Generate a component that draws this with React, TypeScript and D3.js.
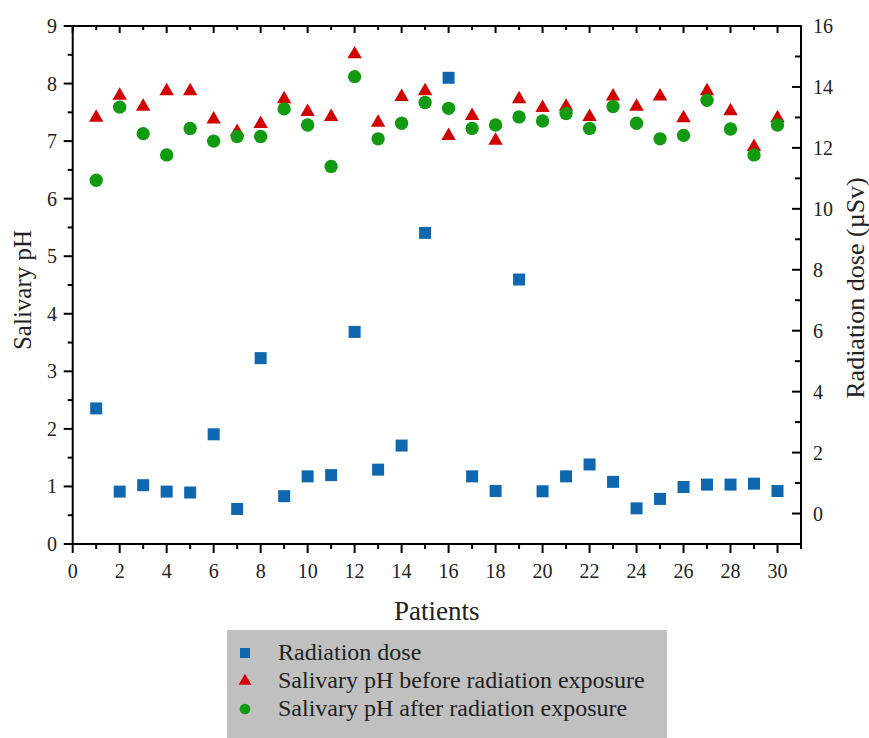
import React from 'react'
import * as d3 from 'd3'

// patient numbers 1..30
const patients = [1, 2, 3, 4, 5, 6, 7, 8, 9, 10, 11, 12, 13, 14, 15, 16, 17, 18, 19, 20, 21, 22, 23, 24, 25, 26, 27, 28, 29, 30]
// radiation dose (uSv), right axis
const dose = [3.45, 0.72, 0.93, 0.72, 0.69, 2.6, 0.15, 5.1, 0.57, 1.22, 1.26, 5.96, 1.44, 2.23, 9.21, 14.3, 1.22, 0.74, 7.68, 0.73, 1.22, 1.61, 1.04, 0.17, 0.48, 0.87, 0.95, 0.95, 0.98, 0.74]
// salivary pH before exposure, left axis
const phBefore = [7.41, 7.79, 7.6, 7.87, 7.87, 7.38, 7.16, 7.3, 7.73, 7.51, 7.42, 8.51, 7.32, 7.77, 7.87, 7.09, 7.44, 7.01, 7.73, 7.58, 7.6, 7.42, 7.78, 7.6, 7.78, 7.4, 7.87, 7.52, 6.9, 7.4]
// salivary pH after exposure, left axis
const phAfter = [6.32, 7.59, 7.13, 6.76, 7.22, 7.0, 7.08, 7.08, 7.56, 7.28, 6.56, 8.12, 7.04, 7.31, 7.67, 7.57, 7.22, 7.28, 7.42, 7.35, 7.48, 7.22, 7.6, 7.31, 7.04, 7.1, 7.71, 7.21, 6.76, 7.28]

const xTicks = [0, 2, 4, 6, 8, 10, 12, 14, 16, 18, 20, 22, 24, 26, 28, 30]
const leftTicks = [0, 1, 2, 3, 4, 5, 6, 7, 8, 9]
const rightTicks = [0, 2, 4, 6, 8, 10, 12, 14, 16]
const legendLabels = ['Radiation dose', 'Salivary pH before radiation exposure', 'Salivary pH after radiation exposure']

const BLUE = '#0f67b0'
const RED = '#d00000'
const GREEN = '#129a12'
const INK = '#222'

const left = 72.7, right = 801, top = 26, bottom = 544

export default function App() {
  const x = d3.scaleLinear().domain([0, 31]).range([left, right])
  const yL = d3.scaleLinear().domain([0, 9]).range([bottom, top])
  const yR = d3.scaleLinear().domain([-1, 16]).range([bottom, top])

  const xMinor = d3.range(1, 32, 2)
  const leftMinor = d3.range(0.5, 9, 1)
  const rightMinor = d3.range(-1, 16, 2)

  const square = d3.symbol().type(d3.symbolSquare).size(144)()
  const tri = d3.symbol().type(d3.symbolTriangle).size(90)()
  const circ = d3.symbol().type(d3.symbolCircle).size(140)()
  const legSymbols = [
    d3.symbol().type(d3.symbolSquare).size(100)(),
    d3.symbol().type(d3.symbolTriangle).size(70)(),
    d3.symbol().type(d3.symbolCircle).size(90)(),
  ]
  const colors = [BLUE, RED, GREEN]
  const ln = { stroke: '#000', strokeWidth: 2 }

  return (
    <svg width={869} height={738} fontFamily="Liberation Serif" fill={INK}
      style={{ position: 'absolute', left: 0, top: 0, fontFamily: "'Liberation Serif', serif" }}>
      <style>{"text { font-family: 'Liberation Serif', serif !important; }"}</style>
      <rect x={0} y={0} width={869} height={738} fill="#fff" />
      {/* bottom + top axis ticks */}
      {xTicks.map(t => (
        <g key={'x' + t}>
          <line x1={x(t)} x2={x(t)} y1={bottom} y2={bottom + 9} {...ln} />
          <line x1={x(t)} x2={x(t)} y1={top} y2={top + 7} {...ln} />
          <text x={x(t)} y={578} textAnchor="middle" fontSize={20}>{t}</text>
        </g>
      ))}
      {xMinor.map(t => (
        <g key={'xm' + t}>
          <line x1={x(t)} x2={x(t)} y1={bottom} y2={bottom + 5} {...ln} />
          <line x1={x(t)} x2={x(t)} y1={top} y2={top + 4} {...ln} />
        </g>
      ))}
      {/* left axis */}
      {leftTicks.map(t => (
        <g key={'l' + t}>
          <line x1={left - 9} x2={left} y1={yL(t)} y2={yL(t)} {...ln} />
          <text x={57} y={yL(t) + 7} textAnchor="end" fontSize={20}>{t}</text>
        </g>
      ))}
      {leftMinor.map(t => (
        <line key={'lm' + t} x1={left - 5} x2={left} y1={yL(t)} y2={yL(t)} {...ln} />
      ))}
      {/* right axis, ticks inward */}
      {rightTicks.map(t => (
        <g key={'r' + t}>
          <line x1={right - 9} x2={right} y1={yR(t)} y2={yR(t)} {...ln} />
          <text x={813} y={yR(t) + 7} textAnchor="start" fontSize={20}>{t}</text>
        </g>
      ))}
      {rightMinor.map(t => (
        <line key={'rm' + t} x1={right - 6} x2={right} y1={yR(t)} y2={yR(t)} {...ln} />
      ))}
      {/* frame */}
      <rect x={left} y={top} width={right - left} height={bottom - top} fill="none" {...ln} />

      {/* markers */}
      {patients.map((p, i) => (
        <path key={'d' + p} d={square} transform={`translate(${x(p)},${yR(dose[i])})`} fill={BLUE} />
      ))}
      {patients.map((p, i) => (
        <path key={'b' + p} d={tri} transform={`translate(${x(p)},${yL(phBefore[i])})`} fill={RED} />
      ))}
      {patients.map((p, i) => (
        <path key={'a' + p} d={circ} transform={`translate(${x(p)},${yL(phAfter[i])})`} fill={GREEN} />
      ))}

      {/* axis titles */}
      <text x={(left + right) / 2} y={620} textAnchor="middle" fontSize={27}>Patients</text>
      <text transform="translate(31,290) rotate(-90)" textAnchor="middle" fontSize={25}>Salivary pH</text>
      <text transform="translate(864,288) rotate(-90)" textAnchor="middle" fontSize={26}>Radiation dose (µSv)</text>

      {/* legend */}
      <rect x={227} y={630} width={440} height={120} fill="#c0c0c0" />
      {legendLabels.map((label, i) => {
        const by = 660 + i * 28
        return (
          <g key={label}>
            <path d={legSymbols[i]} transform={`translate(245,${by - 7})`} fill={colors[i]} />
            <text x={278} y={by} fontSize={24}>{label}</text>
          </g>
        )
      })}
    </svg>
  )
}
